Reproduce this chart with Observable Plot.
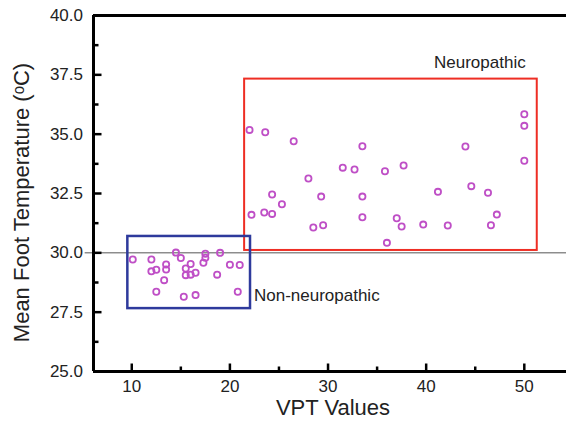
<!DOCTYPE html>
<html><head><meta charset="utf-8">
<script src="https://cdn.jsdelivr.net/npm/d3@7"></script>
<script src="https://cdn.jsdelivr.net/npm/@observablehq/plot@0.6"></script>
<style>body{margin:0;background:#fff} #chart svg{display:block}</style>
</head><body><div id="chart"></div>
<script>
// Neuropathic group then non-neuropathic group
const vpt = [
  22.0, 23.6, 26.5, 33.5, 31.5, 32.7, 35.8, 28.0, 24.3, 29.3, 33.5, 25.3, 22.2, 23.5, 24.3, 28.5, 29.5,
  33.5, 37.0, 36.0, 37.5, 37.7, 50.0, 50.0, 50.0, 44.0, 44.6, 41.2, 46.3, 47.2, 46.6, 39.7, 42.2,
  10.1, 12.0, 12.0, 12.5, 13.5, 13.5, 13.3, 12.5, 14.5, 15.0, 15.5, 16.0, 15.5, 16.0, 16.5, 15.3,
  16.5, 17.3, 17.5, 17.5, 19.0, 18.7, 20.0, 21.0, 20.8
];
const temp = [
  35.18, 35.08, 34.70, 34.49, 33.59, 33.51, 33.44, 33.13, 32.46, 32.37, 32.37, 32.05, 31.60, 31.70, 31.64, 31.07, 31.16,
  31.50, 31.46, 30.42, 31.11, 33.68, 35.84, 35.35, 33.88, 34.48, 32.81, 32.57, 32.53, 31.61, 31.16, 31.19, 31.15,
  29.72, 29.72, 29.22, 29.29, 29.51, 29.30, 28.85, 28.36, 30.01, 29.78, 29.34, 29.53, 29.06, 29.08, 29.16, 28.15,
  28.22, 29.58, 29.96, 29.79, 30.00, 29.08, 29.50, 29.49, 28.36
];

const xTicks = [10, 20, 30, 40, 50];
const xMinorTicks = [15, 25, 35, 45];
const yTicks = [25, 27.5, 30, 32.5, 35, 37.5, 40];
const yMinorTicks = [26.25, 28.75, 31.25, 33.75, 36.25, 38.75];
const xDomain = [6.1, 54.3];
const yDomain = [25, 40];
const threshold = [30];

const groupNames = ["Neuropathic", "Non-neuropathic"];
const boxVptMin = [21.5, 9.6];
const boxVptMax = [51.32, 22.1];
const boxTempMin = [30.1, 27.65];
const boxTempMax = [37.32, 30.69];
const labelVpt = [40.8, 22.45];
const labelTemp = [38.0, 28.2];

const xLabel = "VPT Values";
const yLabel = "Mean Foot Temperature (ᵒC)";

const points = vpt.map((v, i) => ({vpt: v, temp: temp[i]}));
const groups = groupNames.map((name, i) => ({
  name, x1: boxVptMin[i], x2: boxVptMax[i], y1: boxTempMin[i], y2: boxTempMax[i],
  lx: labelVpt[i], ly: labelTemp[i]
}));

const font = "'Liberation Sans', Arial, Helvetica, sans-serif";

// inward tick glyphs (custom symbols)
const tickUp = len => ({draw(ctx) { ctx.moveTo(0, 0); ctx.lineTo(0, -len); }});
const tickRight = len => ({draw(ctx) { ctx.moveTo(0, 0); ctx.lineTo(len, 0); }});

const chart = Plot.plot({
  width: 566, height: 426,
  marginLeft: 93, marginRight: 0, marginTop: 15, marginBottom: 55,
  style: {fontFamily: font, background: "#fff", overflow: "visible"},
  x: {domain: xDomain},
  y: {domain: yDomain},
  marks: [
    Plot.ruleY(threshold, {x1: 5.25, x2: xDomain[1], stroke: "#555", strokeWidth: 1}),
    Plot.rect(groups.slice(0, 1), {x1: "x1", x2: "x2", y1: "y1", y2: "y2", fill: "none", stroke: "#ee2e24", strokeWidth: 2}),
    Plot.rect(groups.slice(1, 2), {x1: "x1", x2: "x2", y1: "y1", y2: "y2", fill: "none", stroke: "#2e3a9c", strokeWidth: 2.5}),
    Plot.dot(points, {x: "vpt", y: "temp", r: 3.1, stroke: "#bf4fc6", strokeWidth: 1.8, fill: "none"}),
    Plot.text(groups, {x: "lx", y: "ly", text: "name", textAnchor: "start", fontSize: 17, fill: "#222"}),
    // frame
    Plot.ruleY(yDomain, {stroke: "black", strokeWidth: 3}),
    Plot.ruleX([xDomain[0]], {stroke: "black", strokeWidth: 3}),
    // inward tick marks
    Plot.dot(xTicks, {x: d => d, y: yDomain[0], symbol: tickUp(8), fill: "none", stroke: "black", strokeWidth: 2.5}),
    Plot.dot(xMinorTicks, {x: d => d, y: yDomain[0], symbol: tickUp(5), fill: "none", stroke: "black", strokeWidth: 2.5}),
    Plot.dot(yTicks, {y: d => d, x: xDomain[0], symbol: tickRight(8), fill: "none", stroke: "black", strokeWidth: 2.5}),
    Plot.dot(yMinorTicks, {y: d => d, x: xDomain[0], symbol: tickRight(5), fill: "none", stroke: "black", strokeWidth: 2.5}),
    // tick labels
    Plot.axisX(xTicks, {tickSize: 0, tickPadding: 8, fontSize: 17, color: "#222", tickFormat: d => d, label: null}),
    Plot.axisY(yTicks, {tickSize: 0, tickPadding: 10.5, fontSize: 17, color: "#222", tickFormat: d3.format(".1f"), label: null}),
    Plot.text([xLabel], {frameAnchor: "bottom", dx: 3, dy: 43, fontSize: 22, fill: "#222"}),
    Plot.text([yLabel], {frameAnchor: "left", textAnchor: "middle", rotate: -90, dx: -72, dy: 9, fontSize: 22, fill: "#222"})
  ]
});
document.getElementById("chart").appendChild(chart);
</script>
</body></html>
